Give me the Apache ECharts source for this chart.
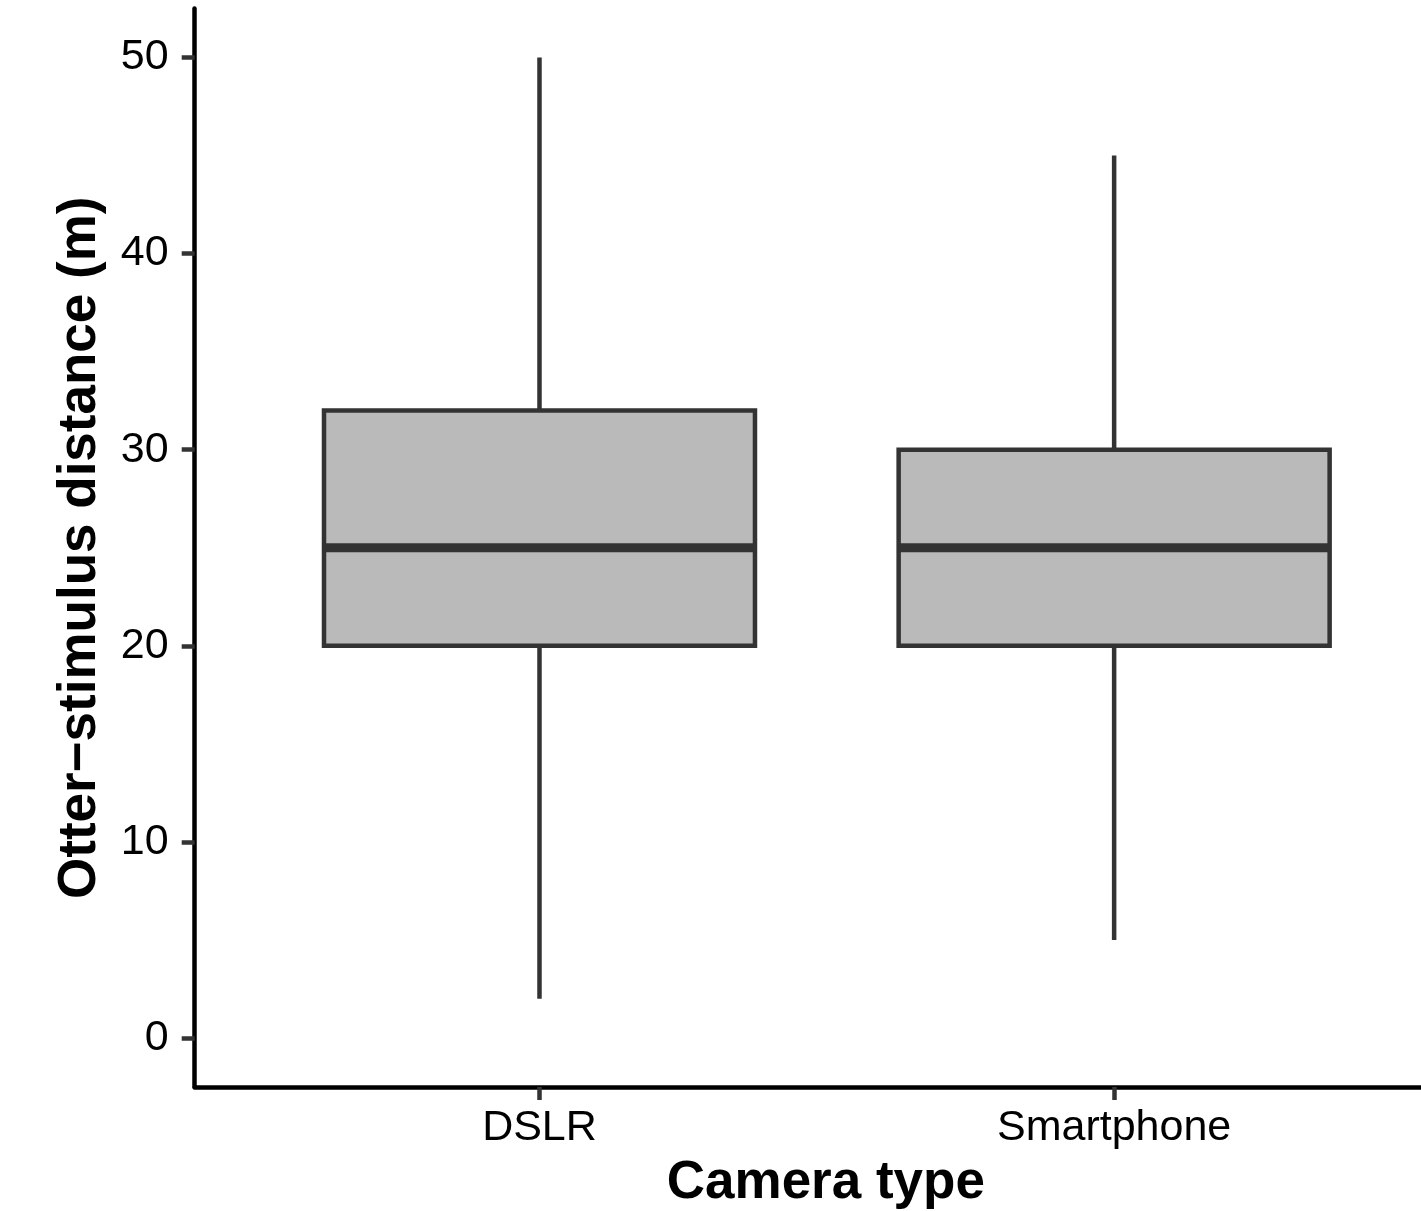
<!DOCTYPE html>
<html>
<head>
<meta charset="utf-8">
<title>Otter–stimulus distance by camera type</title>
<script src="https://cdn.jsdelivr.net/npm/echarts@6/dist/echarts.min.js"></script>
<style>
  html, body { margin: 0; padding: 0; background: #ffffff; }
  #chart { width: 1421px; height: 1211px; }
</style>
</head>
<body>
<div id="chart"></div>
<script>
// Box-plot summary per camera type (metres)
const categories = ['DSLR', 'Smartphone'];
const whiskerLow = [2, 5];
const lowerQuartile = [20, 20];
const medianValue = [25, 25];
const upperQuartile = [32, 30];
const whiskerHigh = [50, 45];
const yTicks = [0, 10, 20, 30, 40, 50];

const FONT = "'Liberation Sans', Arial, Helvetica, sans-serif";
const INK = '#333333';

// one row per category: [position, low, q1, median, q3, high]
const boxData = categories.map((c, i) => [
  i + 1, whiskerLow[i], lowerQuartile[i], medianValue[i], upperQuartile[i], whiskerHigh[i]
]);

const chart = echarts.init(document.getElementById('chart'), null, { renderer: 'canvas' });

function renderBox(params, api) {
  const x = api.value(0);
  const pLow = api.coord([x, api.value(1)]);
  const pQ1 = api.coord([x, api.value(2)]);
  const pMed = api.coord([x, api.value(3)]);
  const pQ3 = api.coord([x, api.value(4)]);
  const pHigh = api.coord([x, api.value(5)]);
  const half = api.size([0.75, 0])[0] / 2;
  const line = { stroke: INK, lineWidth: 4.5, lineCap: 'butt' };
  return {
    type: 'group',
    children: [
      { type: 'line', shape: { x1: pQ3[0], y1: pQ3[1], x2: pHigh[0], y2: pHigh[1] }, style: line },
      { type: 'line', shape: { x1: pLow[0], y1: pLow[1], x2: pQ1[0], y2: pQ1[1] }, style: line },
      {
        type: 'rect',
        shape: { x: pQ3[0] - half, y: pQ3[1], width: half * 2, height: pQ1[1] - pQ3[1] },
        style: { fill: '#BABABA', stroke: INK, lineWidth: 4.5, lineJoin: 'miter' }
      },
      {
        type: 'line',
        shape: { x1: pMed[0] - half, y1: pMed[1], x2: pMed[0] + half, y2: pMed[1] },
        style: { stroke: INK, lineWidth: 9, lineCap: 'butt' }
      }
    ]
  };
}

const option = {
  backgroundColor: '#ffffff',
  animation: false,
  grid: { left: 194.7, right: 0, top: 8.5, bottom: 124, containLabel: false, outerBoundsMode: 'none' },
  xAxis: {
    type: 'value',
    min: 0.4,
    max: 2.534,
    name: 'Camera type',
    nameLocation: 'middle',
    nameGap: 70,
    nameTextStyle: { fontFamily: FONT, fontSize: 53, fontWeight: 'bold', color: '#000', padding: [0, 0, 0, 36] },
    axisLine: { show: true, onZero: false, lineStyle: { color: '#000', width: 4.5 } },
    axisTick: { show: true, length: 13, customValues: [1, 2], lineStyle: { color: INK, width: 4.5 } },
    axisLabel: {
      customValues: [1, 2],
      formatter: v => categories[Math.round(v) - 1] || '',
      fontFamily: FONT, fontSize: 43, color: '#000', margin: 20
    },
    splitLine: { show: false }
  },
  yAxis: {
    type: 'value',
    min: -2.5,
    max: 52.5,
    name: 'Otter\u2212stimulus distance (m)',
    nameLocation: 'middle',
    nameGap: 88,
    nameTextStyle: { fontFamily: FONT, fontSize: 53, fontWeight: 'bold', color: '#000' },
    axisLine: { show: true, onZero: false, lineStyle: { color: '#000', width: 4.5 } },
    axisTick: { show: true, length: 13, customValues: yTicks, lineStyle: { color: INK, width: 4.5 } },
    axisLabel: { customValues: yTicks, fontFamily: FONT, fontSize: 43, color: '#000', margin: 26 },
    splitLine: { show: false }
  },
  series: [{
    type: 'custom',
    renderItem: renderBox,
    encode: { x: 0, y: [1, 2, 3, 4, 5] },
    data: boxData,
    clip: false
  }]
};

chart.setOption(option);
</script>
</body>
</html>
